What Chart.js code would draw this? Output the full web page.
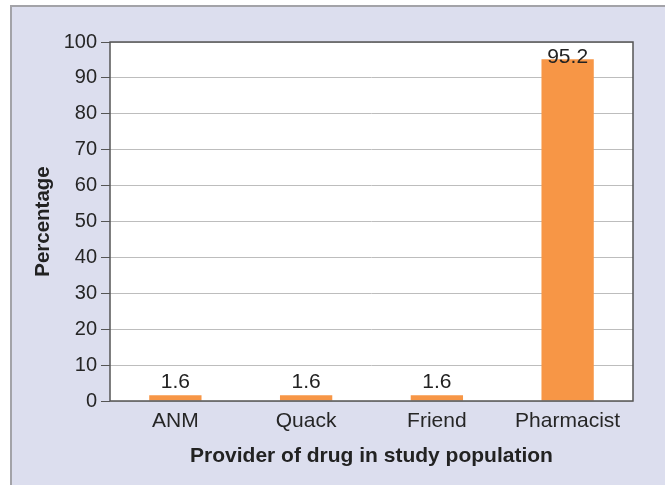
<!DOCTYPE html>
<html>
<head>
<meta charset="utf-8">
<title>Provider of drug in study population</title>
<script src="https://cdn.jsdelivr.net/npm/chart.js@4"></script>
<style>
  html, body { margin: 0; padding: 0; background: #ffffff; overflow: hidden; }
  #frame {
    position: absolute; left: 10px; top: 5px; width: 700px; height: 520px;
    background: #dcdeee; border-left: 2px solid #a3a3a8; border-top: 2px solid #a3a3a8;
  }
  #wrap { position: absolute; left: 0; top: 0; width: 665px; height: 485px; }
</style>
</head>
<body>
<div id="frame"></div>
<div id="wrap"><canvas id="chart" width="665" height="485"></canvas></div>
<script>
// Source of the drug, share of respondents (%)
const categories = ['ANM', 'Quack', 'Friend', 'Pharmacist'];
const percentages = [1.6, 1.6, 1.6, 95.2];
const yTicks = [0, 10, 20, 30, 40, 50, 60, 70, 80, 90, 100];

const FONT = "'Liberation Sans', Arial, Helvetica, sans-serif";

// White plot area with a dark frame around it
const plotFrame = {
  id: 'plotFrame',
  beforeDraw(chart) {
    const { ctx, chartArea: a } = chart;
    ctx.save();
    ctx.fillStyle = '#ffffff';
    ctx.fillRect(a.left, a.top, a.right - a.left, a.bottom - a.top);
    ctx.restore();
  },
  afterDatasetsDraw(chart) {
    const { ctx, chartArea: a } = chart;
    ctx.save();
    ctx.strokeStyle = '#555555';
    ctx.lineWidth = 1.5;
    ctx.strokeRect(a.left, a.top, a.right - a.left, a.bottom - a.top);
    ctx.restore();
  }
};

// Value printed above each bar
const valueLabels = {
  id: 'valueLabels',
  afterDatasetsDraw(chart) {
    const { ctx, chartArea: a } = chart;
    const meta = chart.getDatasetMeta(0);
    ctx.save();
    ctx.font = '21px ' + FONT;
    ctx.fillStyle = '#222222';
    ctx.textAlign = 'center';
    ctx.textBaseline = 'alphabetic';
    meta.data.forEach((bar, i) => {
      const y = Math.max(bar.y - 7, a.top + 21);
      ctx.fillText(String(percentages[i]), bar.x, y);
    });
    ctx.restore();
  }
};

new Chart(document.getElementById('chart'), {
  type: 'bar',
  data: {
    labels: categories,
    datasets: [{
      data: percentages,
      backgroundColor: '#f79646',
      borderWidth: 0,
      barPercentage: 0.4,
      categoryPercentage: 1.0
    }]
  },
  options: {
    responsive: false,
    animation: false,
    devicePixelRatio: 1,
    layout: { padding: { top: 42, right: 32, left: 0, bottom: 0 } },
    plugins: { legend: { display: false }, tooltip: { enabled: false } },
    scales: {
      x: {
        afterFit(scale) { scale.height = 84; },
        grid: { display: false },
        border: { display: false },
        ticks: { color: '#262626', padding: 0, font: { family: FONT, size: 21 } },
        title: {
          display: true,
          text: 'Provider of drug in study population',
          color: '#222222',
          padding: { top: 0, bottom: 16 },
          font: { family: FONT, size: 21, weight: 'bold' }
        }
      },
      y: {
        min: 0,
        max: 100,
        afterFit(scale) { scale.width = 110; },
        afterBuildTicks(scale) { scale.ticks = yTicks.map(v => ({ value: v })); },
        grid: { color: '#bdbdbd', lineWidth: 1, tickColor: '#555555', tickLength: 9, drawTicks: true },
        border: { display: false },
        ticks: { color: '#262626', padding: 4, font: { family: FONT, size: 20 } },
        title: {
          display: true,
          text: 'Percentage',
          color: '#222222',
          padding: { top: 31, bottom: 0 },
          font: { family: FONT, size: 20.5, weight: 'bold' }
        }
      }
    }
  },
  plugins: [plotFrame, valueLabels]
});
</script>
</body>
</html>
